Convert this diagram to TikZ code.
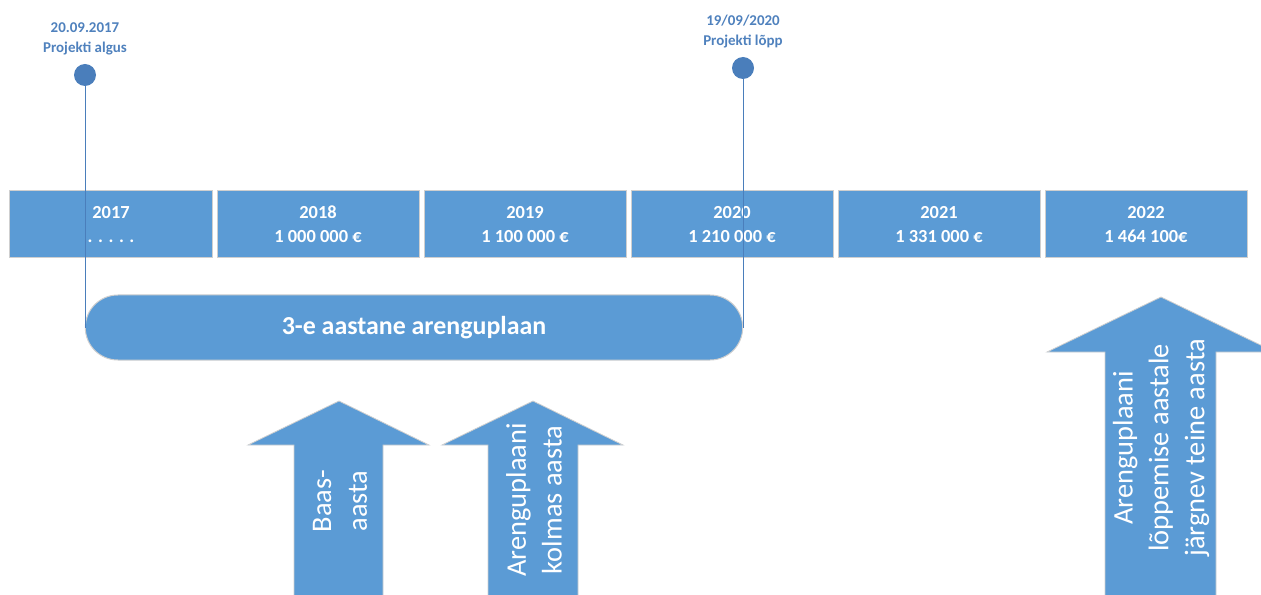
\documentclass[tikz,border=0pt]{standalone}
\usepackage{fontspec}
\setmainfont{Carlito}
\usepackage{xcolor}
\usetikzlibrary{shapes.misc}
\definecolor{boxColor}{HTML}{5B9BD5}
\definecolor{boxLineColor}{HTML}{CFCFCF}
\definecolor{pinColor}{HTML}{4A7EBB}
\definecolor{pinTextColor}{HTML}{4F81BD}
\definecolor{labelTextColor}{HTML}{FFFFFF}
\def\textPlan{3-e aastane arenguplaan}
\def\textStart{20.09.2017\\Projekti algus}
\def\textEnd{19/09/2020\\Projekti lõpp}
\def\textBase{Baas-\\aasta}
\def\textThird{Arenguplaani\\kolmas aasta}
\def\textNext{Arenguplaani\\lõppemise aastale\\järgnev teine aasta}

\begin{document}
\begin{tikzpicture}[x=1bp,y=-1bp]
\tikzset{
yearbox/.style={rectangle, fill=boxColor, draw=boxLineColor, line width=1bp,
minimum width=202bp, minimum height=67bp, inner sep=0pt, align=center,
text=labelTextColor, font=\bfseries\fontsize{18.5}{24}\selectfont},
pin/.style={circle, inner sep=0pt, minimum size=22bp, fill=pinColor},
pinlabel/.style={align=center, text=pinTextColor,
font=\bfseries\fontsize{15}{20}\selectfont},
pinline/.style={draw=pinColor, line width=1bp},
uparrow/.style={fill=boxColor, draw=boxLineColor, line width=.8bp},
arrowtext/.style={rotate=90, align=center, text=labelTextColor,
font=\fontsize{28.5}{36}\selectfont}
}
\useasboundingbox (0, 0) rectangle (1261, 595);

% year layer
\begin{scope}
\node[yearbox] (y2017) at (111, 224.5) {2017\\. . . . .};
\node[yearbox] (y2018) at (318, 224.5) {2018\\1 000 000 €};
\node[yearbox] (y2019) at (525, 224.5) {2019\\1 100 000 €};
\node[yearbox] (y2020) at (732, 224.5) {2020\\1 210 000 €};
\node[yearbox] (y2021) at (939, 224.5) {2021\\1 331 000 €};
\node[yearbox] (y2022) at (1146, 224.5) {2022\\1 464 100€};
\end{scope}

% plan layer
\begin{scope}
\node[rounded rectangle, fill=boxColor, draw=boxLineColor, line width=1bp,
minimum width=664bp, minimum height=65bp, text=labelTextColor,
font=\bfseries\fontsize{26}{30}\selectfont] (plan) at (414, 327.5) {\textPlan};
\end{scope}

% pin layer
\begin{scope}
\node[pin] (startPin) at (85, 75) {};
\node[pin] (endPin) at (743, 68) {};
\node[pinlabel] (startLabel) at (85, 39) {\textStart};
\node[pinlabel] (endLabel) at (743, 31.5) {\textEnd};
\draw[pinline] (startPin.south) -- (startPin.south |- plan.west);
\draw[pinline] (endPin.south) -- (endPin.south |- plan.east);
\end{scope}

% arrow layer
\begin{scope}
\draw[uparrow] (294, 598) -- (294, 445) -- (248, 445) -- (339, 401)
-- (429, 445) -- (383, 445) -- (383, 598) -- cycle;
\draw[uparrow] (488, 598) -- (488, 445) -- (442, 445) -- (533, 401)
-- (623, 445) -- (578, 445) -- (578, 598) -- cycle;
\draw[uparrow] (1105, 598) -- (1105, 352) -- (1047, 352) -- (1161, 297)
-- (1275, 352) -- (1216, 352) -- (1216, 598) -- cycle;
\node[arrowtext] (baseText) at (340, 501) {\textBase};
\node[arrowtext] (thirdText) at (534, 500) {\textThird};
\node[arrowtext] (nextText) at (1161, 448) {\textNext};
\end{scope}

\end{tikzpicture}
\end{document}
